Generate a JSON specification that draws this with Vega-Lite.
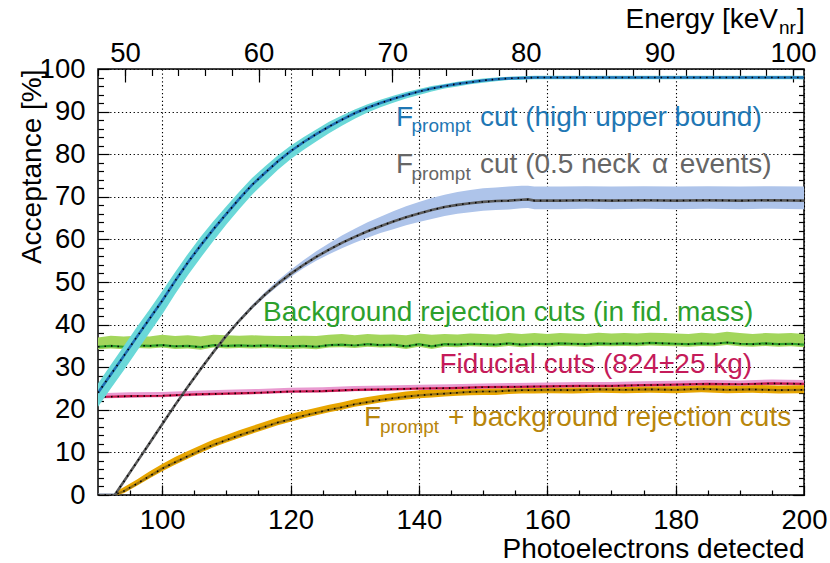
{
  "$schema": "https://vega.github.io/schema/vega-lite/v6.json",
  "width": 706,
  "height": 426,
  "autosize": {"type": "none"},
  "padding": {"left": 98, "top": 69, "right": 26, "bottom": 68},
  "background": "white",
  "config": {
    "view": {"stroke": "black", "strokeWidth": 1.5},
    "font": "Liberation Sans",
    "text": {"font": "Liberation Sans"},
    "axis": {"labelFont": "Liberation Sans", "titleFont": "Liberation Sans", "labelColor": "black", "titleColor": "black", "domain": false, "grid": false, "labels": false, "ticks": true, "tickColor": "black", "tickWidth": 1.2, "zindex": 1, "labelOverlap": false, "labelFlush": false}
  },
  "datasets": {
    "curves": [
      {"s":"A","pe":90,"v":24.0,"lo":20.7,"hi":26.2},
      {"s":"A","pe":92,"v":28.3,"lo":25.0,"hi":30.6},
      {"s":"A","pe":94,"v":32.6,"lo":29.2,"hi":34.9},
      {"s":"A","pe":96,"v":37.0,"lo":33.6,"hi":39.3},
      {"s":"A","pe":98,"v":41.3,"lo":38.0,"hi":43.5},
      {"s":"A","pe":100,"v":45.6,"lo":42.4,"hi":47.8},
      {"s":"A","pe":102,"v":50.2,"lo":47.1,"hi":52.3},
      {"s":"A","pe":104,"v":54.6,"lo":51.6,"hi":56.6},
      {"s":"A","pe":106,"v":58.6,"lo":55.7,"hi":60.6},
      {"s":"A","pe":108,"v":62.4,"lo":59.7,"hi":64.3},
      {"s":"A","pe":110,"v":66.0,"lo":63.5,"hi":67.8},
      {"s":"A","pe":112,"v":69.5,"lo":67.1,"hi":71.2},
      {"s":"A","pe":114,"v":72.8,"lo":70.5,"hi":74.4},
      {"s":"A","pe":116,"v":75.6,"lo":73.4,"hi":77.1},
      {"s":"A","pe":118,"v":78.3,"lo":76.3,"hi":79.7},
      {"s":"A","pe":120,"v":80.7,"lo":78.8,"hi":82.0},
      {"s":"A","pe":122,"v":82.8,"lo":81.0,"hi":84.0},
      {"s":"A","pe":124,"v":84.7,"lo":83.0,"hi":85.8},
      {"s":"A","pe":126,"v":86.5,"lo":84.9,"hi":87.6},
      {"s":"A","pe":128,"v":88.1,"lo":86.7,"hi":89.1},
      {"s":"A","pe":130,"v":89.6,"lo":88.3,"hi":90.5},
      {"s":"A","pe":132,"v":90.9,"lo":89.8,"hi":91.7},
      {"s":"A","pe":134,"v":92.0,"lo":91.0,"hi":92.8},
      {"s":"A","pe":136,"v":93.0,"lo":92.1,"hi":93.7},
      {"s":"A","pe":138,"v":93.9,"lo":93.1,"hi":94.6},
      {"s":"A","pe":140,"v":94.7,"lo":93.9,"hi":95.3},
      {"s":"A","pe":142,"v":95.4,"lo":94.7,"hi":96.0},
      {"s":"A","pe":144,"v":96.0,"lo":95.4,"hi":96.5},
      {"s":"A","pe":146,"v":96.5,"lo":95.9,"hi":97.0},
      {"s":"A","pe":148,"v":96.9,"lo":96.4,"hi":97.4},
      {"s":"A","pe":150,"v":97.3,"lo":96.8,"hi":97.75},
      {"s":"A","pe":152,"v":97.6,"lo":97.1,"hi":98.0},
      {"s":"A","pe":154,"v":97.8,"lo":97.4,"hi":98.2},
      {"s":"A","pe":156,"v":97.9,"lo":97.5,"hi":98.3},
      {"s":"A","pe":158,"v":98.0,"lo":97.6,"hi":98.4},
      {"s":"A","pe":165,"v":98.0,"lo":97.6,"hi":98.4},
      {"s":"A","pe":170,"v":98.0,"lo":97.6,"hi":98.4},
      {"s":"A","pe":180,"v":98.0,"lo":97.6,"hi":98.4},
      {"s":"A","pe":190,"v":98.0,"lo":97.6,"hi":98.4},
      {"s":"A","pe":200,"v":98.0,"lo":97.6,"hi":98.4},

      {"s":"B","pe":90,"v":0,"lo":-0.35,"hi":0.35},
      {"s":"B","pe":92.6,"v":0,"lo":-0.35,"hi":0.35},
      {"s":"B","pe":94,"v":3.1,"lo":2.75,"hi":3.45},
      {"s":"B","pe":96,"v":7.6,"lo":7.25,"hi":7.95},
      {"s":"B","pe":98,"v":12.1,"lo":11.75,"hi":12.45},
      {"s":"B","pe":100,"v":16.6,"lo":16.25,"hi":16.95},
      {"s":"B","pe":102,"v":21.1,"lo":20.75,"hi":21.45},
      {"s":"B","pe":104,"v":25.4,"lo":25.05,"hi":25.75},
      {"s":"B","pe":106,"v":29.6,"lo":29.25,"hi":29.95},
      {"s":"B","pe":108,"v":33.6,"lo":33.25,"hi":33.95},
      {"s":"B","pe":110,"v":37.4,"lo":37.05,"hi":37.8},
      {"s":"B","pe":112,"v":40.9,"lo":40.5,"hi":41.35},
      {"s":"B","pe":114,"v":44.1,"lo":43.65,"hi":44.6},
      {"s":"B","pe":116,"v":47.0,"lo":46.5,"hi":47.6},
      {"s":"B","pe":118,"v":49.6,"lo":49.0,"hi":50.35},
      {"s":"B","pe":120,"v":51.9,"lo":51.2,"hi":52.8},
      {"s":"B","pe":122,"v":54.0,"lo":53.2,"hi":55.1},
      {"s":"B","pe":124,"v":55.9,"lo":55.0,"hi":57.2},
      {"s":"B","pe":126,"v":57.6,"lo":56.5,"hi":59.1},
      {"s":"B","pe":128,"v":59.2,"lo":57.95,"hi":60.9},
      {"s":"B","pe":130,"v":60.6,"lo":59.2,"hi":62.5},
      {"s":"B","pe":132,"v":61.9,"lo":60.4,"hi":64.0},
      {"s":"B","pe":134,"v":63.1,"lo":61.5,"hi":65.3},
      {"s":"B","pe":136,"v":64.2,"lo":62.4,"hi":66.6},
      {"s":"B","pe":138,"v":65.2,"lo":63.3,"hi":67.8},
      {"s":"B","pe":140,"v":66.1,"lo":64.1,"hi":68.8},
      {"s":"B","pe":142,"v":66.9,"lo":64.8,"hi":69.7},
      {"s":"B","pe":144,"v":67.6,"lo":65.5,"hi":70.5},
      {"s":"B","pe":146,"v":68.1,"lo":66.0,"hi":71.1},
      {"s":"B","pe":148,"v":68.5,"lo":66.4,"hi":71.6},
      {"s":"B","pe":150,"v":68.8,"lo":66.7,"hi":72.0},
      {"s":"B","pe":152,"v":69.0,"lo":66.9,"hi":72.2},
      {"s":"B","pe":154,"v":69.1,"lo":67.0,"hi":72.4},
      {"s":"B","pe":156,"v":69.3,"lo":67.3,"hi":72.6},
      {"s":"B","pe":157,"v":69.4,"lo":67.4,"hi":72.6},
      {"s":"B","pe":158,"v":69.1,"lo":67.1,"hi":72.4},
      {"s":"B","pe":162,"v":69.1,"lo":67.1,"hi":72.4},
      {"s":"B","pe":166,"v":69.2,"lo":67.2,"hi":72.5},
      {"s":"B","pe":170,"v":69.1,"lo":67.1,"hi":72.4},
      {"s":"B","pe":175,"v":69.2,"lo":67.2,"hi":72.5},
      {"s":"B","pe":180,"v":69.1,"lo":67.1,"hi":72.4},
      {"s":"B","pe":185,"v":69.2,"lo":67.2,"hi":72.5},
      {"s":"B","pe":190,"v":69.1,"lo":67.1,"hi":72.4},
      {"s":"B","pe":195,"v":69.2,"lo":67.2,"hi":72.5},
      {"s":"B","pe":200,"v":69.1,"lo":67.1,"hi":72.4},

      {"s":"G","pe":90,"v":34.8,"lo":34.2,"hi":37.0},
      {"s":"G","pe":92,"v":35.0,"lo":34.4,"hi":37.4},
      {"s":"G","pe":94,"v":34.8,"lo":34.2,"hi":37.2},
      {"s":"G","pe":96,"v":35.1,"lo":34.5,"hi":37.4},
      {"s":"G","pe":98,"v":35.0,"lo":34.4,"hi":37.2},
      {"s":"G","pe":100,"v":35.2,"lo":34.6,"hi":37.6},
      {"s":"G","pe":102,"v":34.9,"lo":34.3,"hi":37.3},
      {"s":"G","pe":104,"v":35.0,"lo":34.4,"hi":37.5},
      {"s":"G","pe":106,"v":34.7,"lo":34.1,"hi":37.2},
      {"s":"G","pe":108,"v":35.2,"lo":34.6,"hi":37.6},
      {"s":"G","pe":110,"v":35.0,"lo":34.4,"hi":37.5},
      {"s":"G","pe":112,"v":35.1,"lo":34.5,"hi":37.4},
      {"s":"G","pe":114,"v":35.0,"lo":34.4,"hi":37.5},
      {"s":"G","pe":116,"v":35.1,"lo":34.5,"hi":37.4},
      {"s":"G","pe":118,"v":35.0,"lo":34.4,"hi":37.3},
      {"s":"G","pe":120,"v":34.9,"lo":34.3,"hi":37.3},
      {"s":"G","pe":122,"v":35.0,"lo":34.4,"hi":37.4},
      {"s":"G","pe":124,"v":34.8,"lo":34.2,"hi":37.3},
      {"s":"G","pe":126,"v":35.2,"lo":34.6,"hi":37.6},
      {"s":"G","pe":128,"v":35.3,"lo":34.7,"hi":37.8},
      {"s":"G","pe":130,"v":35.1,"lo":34.5,"hi":37.5},
      {"s":"G","pe":132,"v":35.4,"lo":34.8,"hi":37.8},
      {"s":"G","pe":134,"v":35.2,"lo":34.6,"hi":37.6},
      {"s":"G","pe":136,"v":35.3,"lo":34.7,"hi":37.7},
      {"s":"G","pe":138,"v":34.9,"lo":34.3,"hi":37.5},
      {"s":"G","pe":140,"v":35.4,"lo":34.8,"hi":37.9},
      {"s":"G","pe":142,"v":34.9,"lo":34.3,"hi":37.6},
      {"s":"G","pe":144,"v":35.4,"lo":34.8,"hi":37.8},
      {"s":"G","pe":146,"v":35.3,"lo":34.7,"hi":37.7},
      {"s":"G","pe":148,"v":35.5,"lo":34.9,"hi":37.9},
      {"s":"G","pe":150,"v":35.4,"lo":34.8,"hi":37.8},
      {"s":"G","pe":152,"v":35.3,"lo":34.7,"hi":37.7},
      {"s":"G","pe":154,"v":35.6,"lo":35.0,"hi":38.0},
      {"s":"G","pe":156,"v":35.3,"lo":34.7,"hi":37.8},
      {"s":"G","pe":158,"v":35.5,"lo":34.9,"hi":38.0},
      {"s":"G","pe":160,"v":35.4,"lo":34.8,"hi":37.8},
      {"s":"G","pe":162,"v":35.6,"lo":35.0,"hi":38.0},
      {"s":"G","pe":164,"v":35.5,"lo":34.9,"hi":37.9},
      {"s":"G","pe":166,"v":35.4,"lo":34.8,"hi":37.8},
      {"s":"G","pe":168,"v":35.6,"lo":35.0,"hi":38.1},
      {"s":"G","pe":170,"v":35.5,"lo":34.9,"hi":37.9},
      {"s":"G","pe":172,"v":35.6,"lo":35.0,"hi":38.0},
      {"s":"G","pe":174,"v":35.5,"lo":34.9,"hi":37.9},
      {"s":"G","pe":176,"v":35.7,"lo":35.1,"hi":38.1},
      {"s":"G","pe":178,"v":35.6,"lo":35.0,"hi":38.0},
      {"s":"G","pe":180,"v":35.5,"lo":34.9,"hi":37.9},
      {"s":"G","pe":182,"v":35.4,"lo":34.8,"hi":37.8},
      {"s":"G","pe":184,"v":35.6,"lo":35.0,"hi":38.1},
      {"s":"G","pe":186,"v":35.5,"lo":34.9,"hi":37.9},
      {"s":"G","pe":188,"v":35.8,"lo":35.2,"hi":38.3},
      {"s":"G","pe":190,"v":35.5,"lo":34.9,"hi":38.0},
      {"s":"G","pe":192,"v":35.4,"lo":34.8,"hi":37.8},
      {"s":"G","pe":194,"v":35.6,"lo":35.0,"hi":38.0},
      {"s":"G","pe":196,"v":35.4,"lo":34.8,"hi":37.9},
      {"s":"G","pe":198,"v":35.5,"lo":34.9,"hi":38.0},
      {"s":"G","pe":200,"v":35.3,"lo":34.7,"hi":37.8},

      {"s":"R","pe":90,"v":23.0,"lo":22.65,"hi":23.9},
      {"s":"R","pe":95,"v":23.2,"lo":22.85,"hi":24.1},
      {"s":"R","pe":100,"v":23.3,"lo":22.95,"hi":24.2},
      {"s":"R","pe":105,"v":23.6,"lo":23.25,"hi":24.5},
      {"s":"R","pe":110,"v":23.8,"lo":23.45,"hi":24.7},
      {"s":"R","pe":115,"v":24.0,"lo":23.65,"hi":24.9},
      {"s":"R","pe":120,"v":24.3,"lo":23.95,"hi":25.2},
      {"s":"R","pe":125,"v":24.4,"lo":24.05,"hi":25.3},
      {"s":"R","pe":130,"v":24.7,"lo":24.35,"hi":25.6},
      {"s":"R","pe":135,"v":24.8,"lo":24.45,"hi":25.7},
      {"s":"R","pe":140,"v":25.0,"lo":24.65,"hi":25.9},
      {"s":"R","pe":145,"v":25.1,"lo":24.75,"hi":26.0},
      {"s":"R","pe":150,"v":25.3,"lo":24.95,"hi":26.2},
      {"s":"R","pe":155,"v":25.4,"lo":25.05,"hi":26.3},
      {"s":"R","pe":160,"v":25.5,"lo":25.15,"hi":26.4},
      {"s":"R","pe":165,"v":25.6,"lo":25.25,"hi":26.5},
      {"s":"R","pe":170,"v":25.6,"lo":25.25,"hi":26.5},
      {"s":"R","pe":175,"v":25.8,"lo":25.45,"hi":26.7},
      {"s":"R","pe":180,"v":25.9,"lo":25.55,"hi":26.8},
      {"s":"R","pe":185,"v":26.1,"lo":25.75,"hi":27.0},
      {"s":"R","pe":190,"v":26.0,"lo":25.65,"hi":26.9},
      {"s":"R","pe":195,"v":26.2,"lo":25.85,"hi":27.1},
      {"s":"R","pe":200,"v":26.1,"lo":25.75,"hi":27.0},

      {"s":"O","pe":93,"v":0.3,"lo":0.0,"hi":1.0},
      {"s":"O","pe":94,"v":0.9,"lo":0.4,"hi":1.8},
      {"s":"O","pe":96,"v":2.6,"lo":2.1,"hi":3.6},
      {"s":"O","pe":98,"v":4.4,"lo":3.9,"hi":5.5},
      {"s":"O","pe":100,"v":6.2,"lo":5.6,"hi":7.3},
      {"s":"O","pe":102,"v":7.7,"lo":7.1,"hi":8.9},
      {"s":"O","pe":104,"v":9.1,"lo":8.5,"hi":10.3},
      {"s":"O","pe":106,"v":10.5,"lo":9.9,"hi":11.7},
      {"s":"O","pe":108,"v":11.8,"lo":11.2,"hi":13.0},
      {"s":"O","pe":110,"v":12.9,"lo":12.3,"hi":14.1},
      {"s":"O","pe":112,"v":14.0,"lo":13.4,"hi":15.2},
      {"s":"O","pe":114,"v":15.0,"lo":14.4,"hi":16.2},
      {"s":"O","pe":116,"v":16.0,"lo":15.4,"hi":17.2},
      {"s":"O","pe":118,"v":17.0,"lo":16.4,"hi":18.2},
      {"s":"O","pe":120,"v":17.8,"lo":17.2,"hi":19.0},
      {"s":"O","pe":122,"v":18.6,"lo":18.0,"hi":19.8},
      {"s":"O","pe":124,"v":19.3,"lo":18.7,"hi":20.5},
      {"s":"O","pe":126,"v":20.0,"lo":19.4,"hi":21.2},
      {"s":"O","pe":128,"v":20.6,"lo":20.0,"hi":21.8},
      {"s":"O","pe":130,"v":21.3,"lo":20.7,"hi":22.5},
      {"s":"O","pe":132,"v":21.8,"lo":21.2,"hi":23.0},
      {"s":"O","pe":134,"v":22.3,"lo":21.7,"hi":23.5},
      {"s":"O","pe":136,"v":22.7,"lo":22.1,"hi":23.9},
      {"s":"O","pe":138,"v":23.1,"lo":22.4,"hi":24.3},
      {"s":"O","pe":140,"v":23.4,"lo":22.7,"hi":24.6},
      {"s":"O","pe":142,"v":23.6,"lo":22.9,"hi":24.8},
      {"s":"O","pe":144,"v":23.8,"lo":23.1,"hi":25.0},
      {"s":"O","pe":146,"v":24.0,"lo":23.3,"hi":25.1},
      {"s":"O","pe":148,"v":24.2,"lo":23.4,"hi":25.3},
      {"s":"O","pe":150,"v":24.3,"lo":23.5,"hi":25.4},
      {"s":"O","pe":152,"v":24.3,"lo":23.5,"hi":25.4},
      {"s":"O","pe":154,"v":24.5,"lo":23.7,"hi":25.6},
      {"s":"O","pe":156,"v":24.6,"lo":23.8,"hi":25.7},
      {"s":"O","pe":158,"v":24.6,"lo":23.8,"hi":25.7},
      {"s":"O","pe":160,"v":24.7,"lo":23.9,"hi":25.8},
      {"s":"O","pe":164,"v":24.6,"lo":23.8,"hi":25.7},
      {"s":"O","pe":168,"v":24.8,"lo":24.0,"hi":25.9},
      {"s":"O","pe":172,"v":24.7,"lo":23.9,"hi":25.8},
      {"s":"O","pe":176,"v":24.8,"lo":24.0,"hi":25.9},
      {"s":"O","pe":180,"v":24.7,"lo":23.9,"hi":25.8},
      {"s":"O","pe":184,"v":24.9,"lo":24.1,"hi":26.0},
      {"s":"O","pe":188,"v":24.7,"lo":23.9,"hi":25.8},
      {"s":"O","pe":192,"v":24.8,"lo":24.0,"hi":25.9},
      {"s":"O","pe":196,"v":24.6,"lo":23.8,"hi":25.7},
      {"s":"O","pe":200,"v":24.7,"lo":23.9,"hi":25.8}
    ]
  },
  "layer": [
    {"data": {"name": "curves"}, "transform": [{"filter": "datum.s === 'G'"}],
     "mark": {"type": "area", "color": "#a3d65c", "clip": true},
     "encoding": {
       "x": {"field": "pe", "type": "quantitative", "scale": {"domain": [90, 200], "nice": false, "zero": false},
             "axis": {"orient": "bottom", "values": [100, 120, 140, 160, 180, 200], "labels": true, "labelFontSize": 27.5, "labelPadding": 43, "labelBaseline": "alphabetic", "tickSize": -10, "grid": true, "gridDash": [1.3, 2.6], "gridColor": "black", "gridWidth": 1.1, "title": "Photoelectrons detected", "titleFontSize": 28, "titleFontWeight": "normal", "titleAnchor": "end", "titleAlign": "right", "titleBaseline": "alphabetic", "titleX": 706, "titleY": 62}},
       "y": {"field": "lo", "type": "quantitative", "scale": {"domain": [0, 100], "nice": false, "zero": false},
             "axis": {"orient": "left", "values": [0, 10, 20, 30, 40, 50, 60, 70, 80, 90, 100], "labels": true, "labelFontSize": 27.5, "labelPadding": 24, "tickSize": -11, "grid": true, "gridDash": [1.3, 2.6], "gridColor": "black", "gridWidth": 1.1, "title": "Acceptance [%]", "titleFontSize": 28, "titleFontWeight": "normal", "titleAngle": -90, "titleAnchor": "end", "titleAlign": "right", "titleBaseline": "alphabetic", "titleX": -58, "titleY": 0}},
       "y2": {"field": "hi"}
     }},
    {"data": {"name": "curves"}, "transform": [{"filter": "datum.s === 'G'"}],
     "mark": {"type": "line", "color": "#2ca02c", "strokeWidth": 2.2, "clip": true},
     "encoding": {"x": {"field": "pe", "type": "quantitative", "scale": {"domain": [90, 200], "nice": false, "zero": false}, "axis": null}, "y": {"field": "v", "type": "quantitative", "axis": null}}},
    {"data": {"name": "curves"}, "transform": [{"filter": "datum.s === 'G'"}],
     "mark": {"type": "line", "color": "black", "strokeWidth": 1.6, "strokeDash": [1.5, 5], "clip": true},
     "encoding": {"x": {"field": "pe", "type": "quantitative", "scale": {"domain": [90, 200], "nice": false, "zero": false}, "axis": null}, "y": {"field": "v", "type": "quantitative", "axis": null}}},

    {"data": {"name": "curves"}, "transform": [{"filter": "datum.s === 'O'"}],
     "mark": {"type": "area", "color": "#e8a600", "clip": true},
     "encoding": {
       "x": {"field": "pe", "type": "quantitative", "scale": {"domain": [90, 200], "nice": false, "zero": false},
             "axis": {"orient": "bottom", "values": [95, 100, 105, 110, 115, 120, 125, 130, 135, 140, 145, 150, 155, 160, 165, 170, 175, 180, 185, 190, 195], "tickSize": -5, "title": null}},
       "y": {"field": "lo", "type": "quantitative", "axis": {"orient": "left", "values": [2, 4, 6, 8, 12, 14, 16, 18, 22, 24, 26, 28, 32, 34, 36, 38, 42, 44, 46, 48, 52, 54, 56, 58, 62, 64, 66, 68, 72, 74, 76, 78, 82, 84, 86, 88, 92, 94, 96, 98], "tickSize": -5.5, "title": null}},
       "y2": {"field": "hi"}
     }},
    {"data": {"name": "curves"}, "transform": [{"filter": "datum.s === 'O'"}],
     "mark": {"type": "line", "color": "#9a7410", "strokeWidth": 2.2, "clip": true},
     "encoding": {"x": {"field": "pe", "type": "quantitative", "scale": {"domain": [90, 200], "nice": false, "zero": false}, "axis": null}, "y": {"field": "v", "type": "quantitative", "axis": null}}},
    {"data": {"name": "curves"}, "transform": [{"filter": "datum.s === 'O'"}],
     "mark": {"type": "line", "color": "black", "strokeWidth": 1.6, "strokeDash": [1.5, 5], "clip": true},
     "encoding": {"x": {"field": "pe", "type": "quantitative", "scale": {"domain": [90, 200], "nice": false, "zero": false}, "axis": null}, "y": {"field": "v", "type": "quantitative", "axis": null}}},

    {"data": {"name": "curves"}, "transform": [{"filter": "datum.s === 'R'"}],
     "mark": {"type": "area", "color": "#e99ad0", "clip": true},
     "encoding": {
       "x": {"field": "pe", "type": "quantitative", "scale": {"domain": [90, 200], "nice": false, "zero": false}, "axis": null},
       "y": {"field": "lo", "type": "quantitative", "axis": {"orient": "right", "values": [0, 10, 20, 30, 40, 50, 60, 70, 80, 90, 100], "tickSize": -11, "title": null}},
       "y2": {"field": "hi"}
     }},
    {"data": {"name": "curves"}, "transform": [{"filter": "datum.s === 'R'"}],
     "mark": {"type": "line", "color": "#c8174a", "strokeWidth": 2.2, "clip": true},
     "encoding": {"x": {"field": "pe", "type": "quantitative", "scale": {"domain": [90, 200], "nice": false, "zero": false}, "axis": null}, "y": {"field": "v", "type": "quantitative", "axis": null}}},
    {"data": {"name": "curves"}, "transform": [{"filter": "datum.s === 'R'"}],
     "mark": {"type": "line", "color": "black", "strokeWidth": 1.6, "strokeDash": [1.5, 5], "clip": true},
     "encoding": {"x": {"field": "pe", "type": "quantitative", "scale": {"domain": [90, 200], "nice": false, "zero": false}, "axis": null}, "y": {"field": "v", "type": "quantitative", "axis": null}}},

    {"data": {"name": "curves"}, "transform": [{"filter": "datum.s === 'B'"}],
     "mark": {"type": "area", "color": "#aec4ea", "clip": true},
     "encoding": {
       "x": {"field": "pe", "type": "quantitative", "scale": {"domain": [90, 200], "nice": false, "zero": false}, "axis": null},
       "y": {"field": "lo", "type": "quantitative", "axis": {"orient": "right", "values": [2, 4, 6, 8, 12, 14, 16, 18, 22, 24, 26, 28, 32, 34, 36, 38, 42, 44, 46, 48, 52, 54, 56, 58, 62, 64, 66, 68, 72, 74, 76, 78, 82, 84, 86, 88, 92, 94, 96, 98], "tickSize": -5.5, "title": null}},
       "y2": {"field": "hi"}
     }},
    {"data": {"name": "curves"}, "transform": [{"filter": "datum.s === 'B'"}],
     "mark": {"type": "line", "color": "#5a5a5a", "strokeWidth": 2.6, "clip": true},
     "encoding": {"x": {"field": "pe", "type": "quantitative", "scale": {"domain": [90, 200], "nice": false, "zero": false}, "axis": null}, "y": {"field": "v", "type": "quantitative", "axis": null}}},
    {"data": {"name": "curves"}, "transform": [{"filter": "datum.s === 'B'"}],
     "mark": {"type": "line", "color": "black", "strokeWidth": 1.6, "strokeDash": [1.5, 5], "clip": true},
     "encoding": {"x": {"field": "pe", "type": "quantitative", "scale": {"domain": [90, 200], "nice": false, "zero": false}, "axis": null}, "y": {"field": "v", "type": "quantitative", "axis": null}}},

    {"data": {"name": "curves"}, "transform": [{"filter": "datum.s === 'A'"}],
     "mark": {"type": "area", "color": "#6ad8d8", "clip": true},
     "encoding": {
       "x": {"field": "pe", "type": "quantitative", "scale": {"domain": [90, 200], "nice": false, "zero": false}, "axis": null},
       "y": {"field": "lo", "type": "quantitative", "axis": null},
       "y2": {"field": "hi"}
     }},
    {"data": {"name": "curves"}, "transform": [{"filter": "datum.s === 'A'"}],
     "mark": {"type": "line", "color": "#1f6fb4", "strokeWidth": 2.6, "clip": true},
     "encoding": {"x": {"field": "pe", "type": "quantitative", "scale": {"domain": [90, 200], "nice": false, "zero": false}, "axis": null}, "y": {"field": "v", "type": "quantitative", "axis": null}}},
    {"data": {"name": "curves"}, "transform": [{"filter": "datum.s === 'A'"}],
     "mark": {"type": "line", "color": "black", "strokeWidth": 1.6, "strokeDash": [1.5, 5], "clip": true},
     "encoding": {"x": {"field": "pe", "type": "quantitative", "scale": {"domain": [90, 200], "nice": false, "zero": false}, "axis": null}, "y": {"field": "v", "type": "quantitative", "axis": null}}},

    {"data": {"values": [{}]}, "mark": {"type": "text", "text": "F", "align": "left", "baseline": "alphabetic", "fontSize": 28, "color": "#1f77b4"},
     "encoding": {"x": {"datum": 136.43, "type": "quantitative", "scale": {"domain": [90, 200], "nice": false, "zero": false}, "axis": null}, "y": {"datum": 86.69, "type": "quantitative", "axis": null}}},
    {"data": {"values": [{}]}, "mark": {"type": "text", "text": "prompt", "align": "left", "baseline": "alphabetic", "fontSize": 19, "color": "#1f77b4"},
     "encoding": {"x": {"datum": 138.85, "type": "quantitative", "scale": {"domain": [90, 200], "nice": false, "zero": false}, "axis": null}, "y": {"datum": 85.14, "type": "quantitative", "axis": null}}},
    {"data": {"values": [{}]}, "mark": {"type": "text", "text": "cut (high upper bound)", "align": "left", "baseline": "alphabetic", "fontSize": 28, "color": "#1f77b4"},
     "encoding": {"x": {"datum": 149.52, "type": "quantitative", "scale": {"domain": [90, 200], "nice": false, "zero": false}, "axis": null}, "y": {"datum": 86.69, "type": "quantitative", "axis": null}}},
    {"data": {"values": [{}]}, "mark": {"type": "text", "text": "F", "align": "left", "baseline": "alphabetic", "fontSize": 28, "color": "#666666"},
     "encoding": {"x": {"datum": 136.43, "type": "quantitative", "scale": {"domain": [90, 200], "nice": false, "zero": false}, "axis": null}, "y": {"datum": 75.52, "type": "quantitative", "axis": null}}},
    {"data": {"values": [{}]}, "mark": {"type": "text", "text": "prompt", "align": "left", "baseline": "alphabetic", "fontSize": 19, "color": "#666666"},
     "encoding": {"x": {"datum": 138.85, "type": "quantitative", "scale": {"domain": [90, 200], "nice": false, "zero": false}, "axis": null}, "y": {"datum": 73.97, "type": "quantitative", "axis": null}}},
    {"data": {"values": [{}]}, "mark": {"type": "text", "text": "cut (0.5 neck\u2004\u200aα\u2004\u200aevents)", "align": "left", "baseline": "alphabetic", "fontSize": 28, "color": "#666666"},
     "encoding": {"x": {"datum": 149.52, "type": "quantitative", "scale": {"domain": [90, 200], "nice": false, "zero": false}, "axis": null}, "y": {"datum": 75.52, "type": "quantitative", "axis": null}}},
    {"data": {"values": [{}]}, "mark": {"type": "text", "text": "Background rejection cuts (in fid. mass)", "align": "left", "baseline": "alphabetic", "fontSize": 28, "color": "#2ca02c"},
     "encoding": {"x": {"datum": 115.71, "type": "quantitative", "scale": {"domain": [90, 200], "nice": false, "zero": false}, "axis": null}, "y": {"datum": 40.85, "type": "quantitative", "axis": null}}},
    {"data": {"values": [{}]}, "mark": {"type": "text", "text": "Fiducial cuts (824±25 kg)", "align": "left", "baseline": "alphabetic", "fontSize": 28, "color": "#c51b5a"},
     "encoding": {"x": {"datum": 143.21, "type": "quantitative", "scale": {"domain": [90, 200], "nice": false, "zero": false}, "axis": null}, "y": {"datum": 28.71, "type": "quantitative", "axis": null}}},
    {"data": {"values": [{}]}, "mark": {"type": "text", "text": "F", "align": "left", "baseline": "alphabetic", "fontSize": 28, "color": "#b8860b"},
     "encoding": {"x": {"datum": 131.45, "type": "quantitative", "scale": {"domain": [90, 200], "nice": false, "zero": false}, "axis": null}, "y": {"datum": 16.2, "type": "quantitative", "axis": null}}},
    {"data": {"values": [{}]}, "mark": {"type": "text", "text": "prompt", "align": "left", "baseline": "alphabetic", "fontSize": 19, "color": "#b8860b"},
     "encoding": {"x": {"datum": 133.94, "type": "quantitative", "scale": {"domain": [90, 200], "nice": false, "zero": false}, "axis": null}, "y": {"datum": 14.65, "type": "quantitative", "axis": null}}},
    {"data": {"values": [{}]}, "mark": {"type": "text", "text": "+ background rejection cuts", "align": "left", "baseline": "alphabetic", "fontSize": 28, "color": "#b8860b"},
     "encoding": {"x": {"datum": 144.53, "type": "quantitative", "scale": {"domain": [90, 200], "nice": false, "zero": false}, "axis": null}, "y": {"datum": 16.2, "type": "quantitative", "axis": null}}},
    {"data": {"values": [{}]}, "mark": {"type": "text", "text": "Energy [keV", "align": "right", "baseline": "alphabetic", "fontSize": 28, "color": "black"},
     "encoding": {"x": {"datum": 195.95, "type": "quantitative", "scale": {"domain": [90, 200], "nice": false, "zero": false}, "axis": null}, "y": {"datum": 109.74, "type": "quantitative", "axis": null}}},
    {"data": {"values": [{}]}, "mark": {"type": "text", "text": "nr", "align": "left", "baseline": "alphabetic", "fontSize": 19, "color": "black"},
     "encoding": {"x": {"datum": 196.1, "type": "quantitative", "scale": {"domain": [90, 200], "nice": false, "zero": false}, "axis": null}, "y": {"datum": 108.22, "type": "quantitative", "axis": null}}},
    {"data": {"values": [{}]}, "mark": {"type": "text", "text": "]", "align": "left", "baseline": "alphabetic", "fontSize": 28, "color": "black"},
     "encoding": {"x": {"datum": 198.91, "type": "quantitative", "scale": {"domain": [90, 200], "nice": false, "zero": false}, "axis": null}, "y": {"datum": 109.74, "type": "quantitative", "axis": null}}},

    {"data": {"values": [{"e": 50}, {"e": 100}]},
     "mark": {"type": "point", "opacity": 0},
     "encoding": {
       "x": {"field": "e", "type": "quantitative", "scale": {"domain": [47.98, 100.82], "nice": false, "zero": false},
             "axis": {"orient": "top", "values": [50, 60, 70, 80, 90, 100], "labels": true, "labelFontSize": 27.5, "labelBaseline": "alphabetic", "labelPadding": 20.5, "tickSize": -13, "title": null}}
     }},
    {"data": {"values": [{"e": 50}, {"e": 100}]},
     "mark": {"type": "point", "opacity": 0},
     "encoding": {
       "x": {"field": "e", "type": "quantitative", "scale": {"domain": [47.98, 100.82], "nice": false, "zero": false},
             "axis": {"orient": "top", "values": [48, 50, 52, 54, 56, 58, 60, 62, 64, 66, 68, 70, 72, 74, 76, 78, 80, 82, 84, 86, 88, 90, 92, 94, 96, 98, 100], "tickSize": -6.5, "title": null}}
     }}
  ],
  "resolve": {"scale": {"x": "independent"}, "axis": {"x": "independent", "y": "independent"}}
}
